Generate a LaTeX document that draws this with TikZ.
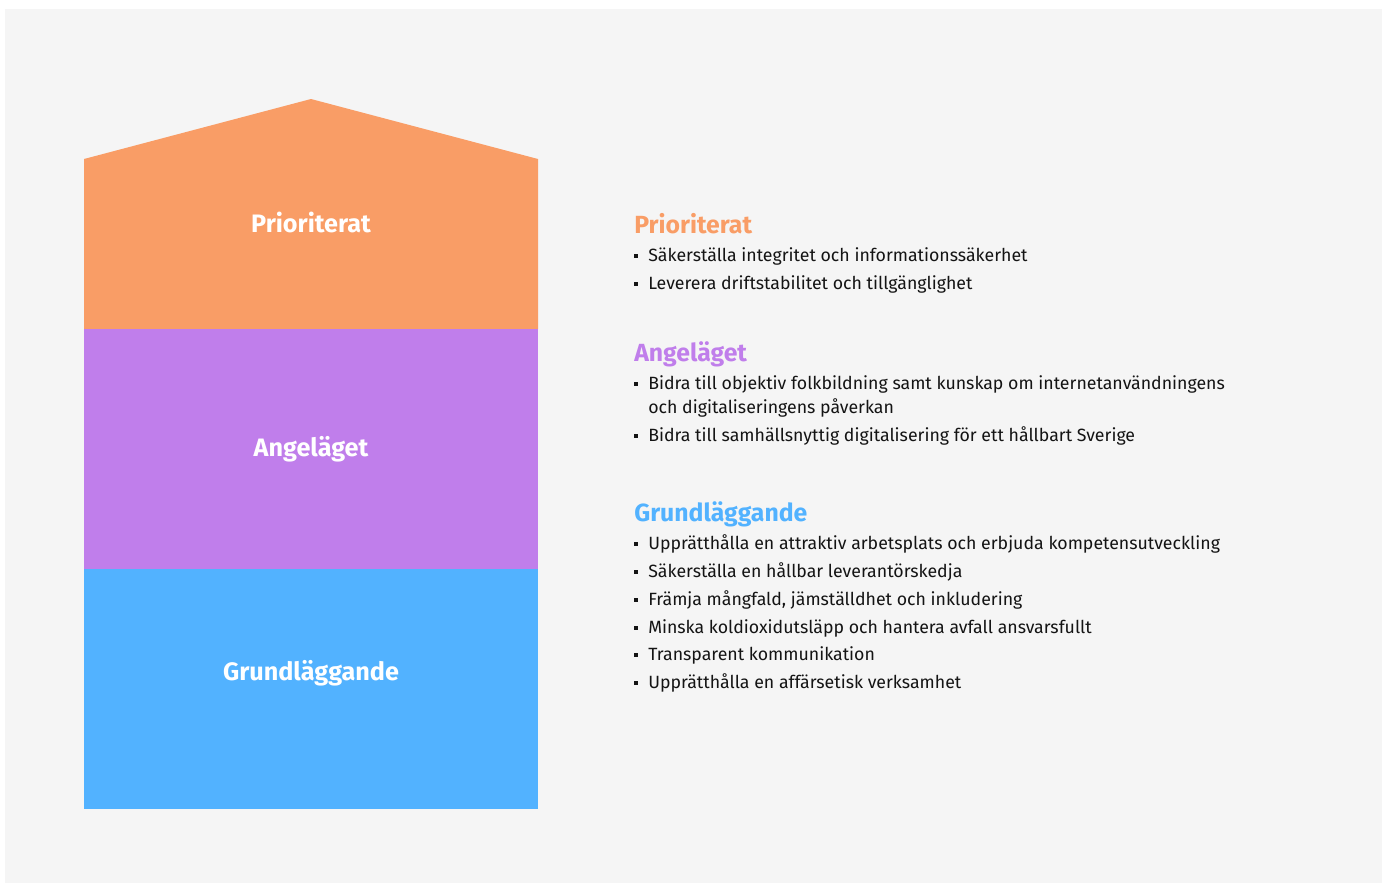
\documentclass[tikz,border=0pt]{standalone}
\usepackage{fontspec}
\setmainfont{Fira Sans}
\definecolor{bg}{HTML}{F5F5F5}
\definecolor{cOr}{HTML}{F99D66}
\definecolor{cPu}{HTML}{C07EEB}
\definecolor{cBl}{HTML}{52B2FF}
\definecolor{txt}{HTML}{141414}
\begin{document}
\begin{tikzpicture}[x=0.75pt,y=-0.75pt,
  houselabel/.style={anchor=base,text=white,font=\fontsize{18.9pt}{20pt}\selectfont\bfseries,inner sep=0},
  heading/.style={anchor=base west,font=\fontsize{18.6pt}{20pt}\selectfont\bfseries,inner sep=0},
  item/.style={anchor=base west,text=txt,font=\fontsize{13.3pt}{15pt}\selectfont,inner sep=0},
  bul/.style={fill=txt,minimum size=3pt,inner sep=0,draw=none}]
\useasboundingbox (0,0) rectangle (1387,883);
\fill[white] (0,0) rectangle (1387,883);
\fill[bg] (5,9) rectangle (1382,883);
% house
\fill[cOr] (84,329) -- (84,159) -- (311,99) -- (538,159) -- (538,329) -- cycle;
\fill[cPu] (84,329) rectangle (538,569);
\fill[cBl] (84,569) rectangle (538,809);
\node[houselabel] (l1) at (311,232) {Prioriterat};
\node[houselabel] (l2) at (311,456) {Angeläget};
\node[houselabel] (l3) at (311,680) {Grundläggande};
% right side
\node[heading,text=cOr] (h1) at (634,233) {Prioriterat};
\node[heading,text=cPu] (h2) at (634,361) {Angeläget};
\node[heading,text=cBl] (h3) at (634,521) {Grundläggande};
\foreach \y/\t [count=\i] in {
 261/{Säkerställa integritet och informationssäkerhet},
 289/{Leverera driftstabilitet och tillgänglighet},
 389/{Bidra till objektiv folkbildning samt kunskap om internetanvändningens},
 441/{Bidra till samhällsnyttig digitalisering för ett hållbart Sverige},
 549/{Upprätthålla en attraktiv arbetsplats och erbjuda kompetensutveckling},
 577/{Säkerställa en hållbar leverantörskedja},
 605/{Främja mångfald, jämställdhet och inkludering},
 633/{Minska koldioxidutsläpp och hantera avfall ansvarsfullt},
 660/{Transparent kommunikation},
 688/{Upprätthålla en affärsetisk verksamhet}}{
  \node[bul] (b\i) at (636,\y-5) {};
  \node[item] (t\i) at (648,\y) {\t};
}
\node[item] (t3b) at (648,413) {och digitaliseringens påverkan};
\end{tikzpicture}
\end{document}
